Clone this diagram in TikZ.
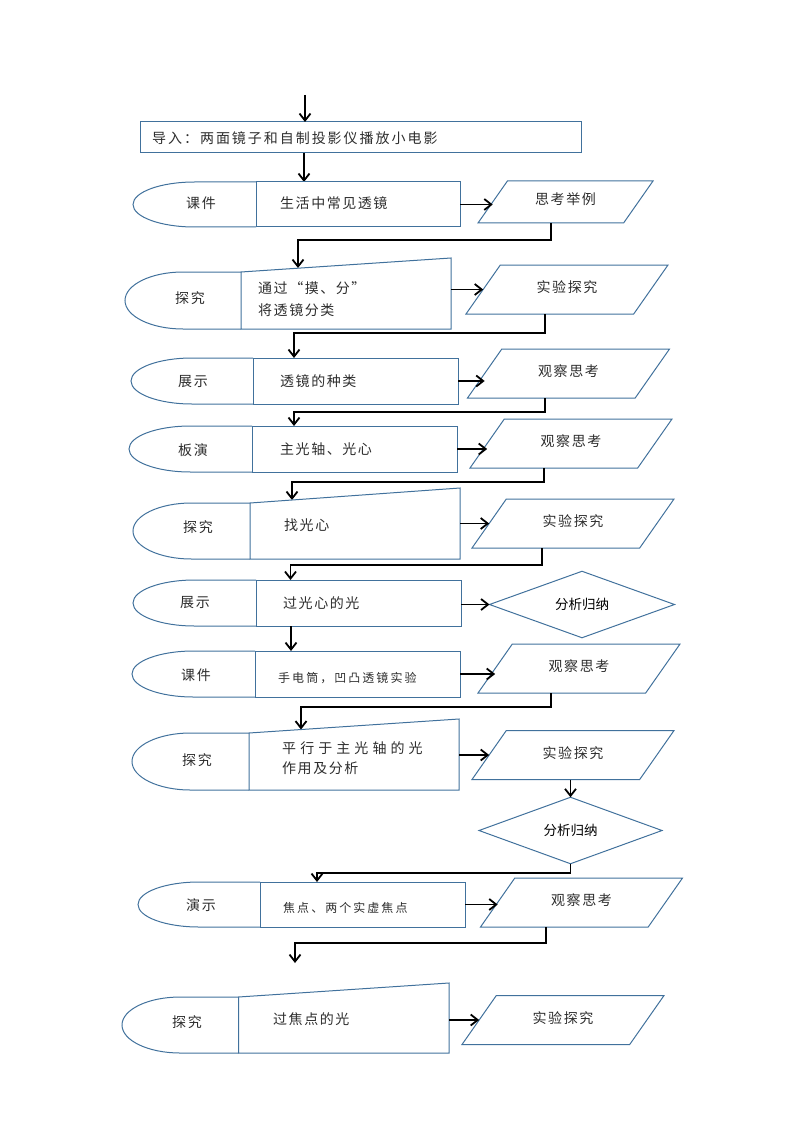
\documentclass[tikz,border=0pt]{standalone}
\usepackage{fontspec}
\newfontfamily\cjk[LetterSpace=11]{Noto Sans CJK SC}
\newfontfamily\cjkwide[LetterSpace=14]{Noto Sans CJK SC}
\newfontfamily\cjkwider[LetterSpace=29]{Noto Sans CJK SC}
\newfontfamily\cjksmall[LetterSpace=17]{Noto Sans CJK SC}
\newfontfamily\cjkplain{Noto Sans CJK SC}
\usetikzlibrary{shapes.geometric,arrows.meta}
\definecolor{lineblue}{RGB}{65,113,156}
\definecolor{txtgray}{RGB}{45,45,45}

\begin{document}
\begin{tikzpicture}[x=1pt,y=-1pt,
  boxline/.style={draw=lineblue,line width=1pt},
  rbox/.style={boxline,inner sep=0,outer sep=0,minimum width=205,minimum height=46},
  para/.style={boxline,trapezium,trapezium left angle=55,trapezium right angle=125,
    trapezium stretches body,minimum width=202,text height=10pt,text depth=4pt,
    inner xsep=0,inner ysep=17.5pt,outer sep=0,
    text=txtgray,font=\fontsize{14}{16}\selectfont\cjk},
  decide/.style={boxline,diamond,minimum width=185,minimum height=57,inner sep=0,outer sep=0,
    font=\fontsize{13.5}{16}\selectfont\cjkplain},
  txt/.style={inner sep=0,text=txtgray,font=\fontsize{14}{16}\selectfont\cjk},
  smalltxt/.style={txt,font=\fontsize{12}{14}\selectfont\cjksmall},
  arr/.style={line width=1.8pt,-{Straight Barb[length=7pt,width=11pt]}}]
\useasboundingbox (0,0) rectangle (794,1123);

% lead-in
\coordinate (start) at (305,95);
\node at (360.5,137.5) (intro)[rbox,minimum width=441,minimum height=31] {};
\node at (152,138) (introtxt)[txt,anchor=west,font=\fontsize{14}{16}\selectfont\cjkwide] {导入：两面镜子和自制投影仪播放小电影};
\draw[arr] (start) -- (start |- intro.north);

% row 1
\coordinate (in1) at (304,182);
\draw[arr] (in1 |- intro.south) -- (in1);
\node at (358,204.5) (r1)[rbox,minimum width=204,minimum height=45] {};
\draw[boxline] (r1.north west) -- ++(-61.5,0) arc[start angle=-90,end angle=-270,x radius=61.5,y radius=22.5] -- (r1.south west);
\node at (201,203) (l1)[txt] {课件};
\node at (280,203) (t1)[txt,anchor=west] {生活中常见透镜};
\node at (565.5,202) (p1)[para,minimum width=175,inner ysep=14pt] {思考举例};
\draw[arr] (r1.east) -- (r1.east -| p1.left side);
\coordinate (in2) at (298,268);
\draw[arr] (p1.bottom side) -- ++(0,17) -| (in2);

% row 2
\draw[boxline] (241,272) coordinate (k2) -- (451,258) coordinate (k2r) -- (451,329) -- (241,329) coordinate (k2b) -- cycle;
\draw[boxline] (k2) -- ++(-58,0) arc[start angle=-90,end angle=-270,x radius=58,y radius=28.5] -- (k2b);
\node at (190,298) (l2)[txt] {探究};
\node at (258,288) (t2a)[txt,anchor=west] {通过“摸、分”};
\node at (258,310) (t2b)[txt,anchor=west] {将透镜分类};
\node at (567,289.5) (p2)[para] {实验探究};
\draw[arr] (p2.left side -| k2r) -- (p2.left side);
\coordinate (in3) at (294,358);
\draw[arr] ([xshift=-5]p2.bottom side) -- ++(0,19) -| (in3);

% row 3
\node at (355.5,381) (r3)[rbox] {};
\draw[boxline] (r3.north west) -- ++(-61,0) arc[start angle=-90,end angle=-270,x radius=61,y radius=23] -- (r3.south west);
\node at (193,382) (l3)[txt] {展示};
\node at (280,381) (t3)[txt,anchor=west] {透镜的种类};
\node at (568.5,373.5) (p3)[para] {观察思考};
\draw[arr] (r3.east) -- (r3.east -| p3.left side);
\coordinate (in4) at (294,426);
\draw[arr] ([xshift=-6]p3.bottom side) -- ++(0,14) -| (in4);

% row 4
\node at (354.5,449) (r4)[rbox] {};
\draw[boxline] (r4.north west) -- ++(-61.5,0) arc[start angle=-90,end angle=-270,x radius=61.5,y radius=23] -- (r4.south west);
\node at (193,450) (l4)[txt] {板演};
\node at (280,449) (t4)[txt,anchor=west] {主光轴、光心};
\node at (571,443.5) (p4)[para] {观察思考};
\draw[arr] (r4.east) -- (r4.east -| p4.left side);
\coordinate (in5) at (292,500);
\draw[arr] ([xshift=-10]p4.bottom side) -- ++(0,14) -| (in5);

% row 5
\draw[boxline] (250,503) coordinate (k5) -- (460,488) coordinate (k5r) -- (460,559) -- (250,559) coordinate (k5b) -- cycle;
\draw[boxline] (k5) -- ++(-58.5,0) arc[start angle=-90,end angle=-270,x radius=58.5,y radius=28] -- (k5b);
\node at (198,527) (l5)[txt] {探究};
\node at (284,525) (t5)[txt,anchor=west] {找光心};
\node at (573,523.5) (p5)[para] {实验探究};
\draw[arr] (p5.left side -| k5r) -- (p5.left side);
\coordinate (in6) at (290.5,580);
\draw[arr] ([xshift=-14]p5.bottom side) -- ++(0,17) -| (in6);

% row 6
\node at (358.5,603) (r6)[rbox] {};
\draw[boxline] (r6.north west) -- ++(-61.5,0) arc[start angle=-90,end angle=-270,x radius=61.5,y radius=23] -- (r6.south west);
\node at (195,603) (l6)[txt] {展示};
\node at (283,603) (t6)[txt,anchor=west] {过光心的光};
\node at (582,604.5) (d6)[decide] {分析归纳};
\draw[arr] (d6.west -| r6.east) -- (d6.west);
\coordinate (in7) at (291,651);
\draw[arr] (in7 |- r6.south) -- (in7);

% row 7
\node at (357.5,674) (r7)[rbox] {};
\draw[boxline] (r7.north west) -- ++(-61.5,0) arc[start angle=-90,end angle=-270,x radius=61.5,y radius=23] -- (r7.south west);
\node at (196,675) (l7)[txt] {课件};
\node at (278,678) (t7)[smalltxt,anchor=west] {手电筒，凹凸透镜实验};
\node at (579,668.5) (p7)[para] {观察思考};
\draw[arr] (r7.east) -- (r7.east -| p7.left side);
\coordinate (in8) at (301,729.5);
\draw[arr] ([xshift=-11]p7.bottom side) -- ++(0,14) -| (in8);

% row 8
\draw[boxline] (249,733) coordinate (k8) -- (459,719) coordinate (k8r) -- (459,790) -- (249,790) coordinate (k8b) -- cycle;
\draw[boxline] (k8) -- ++(-58.5,0) arc[start angle=-90,end angle=-270,x radius=58.5,y radius=28.5] -- (k8b);
\node at (197,760) (l8)[txt] {探究};
\node at (282,748) (t8a)[txt,anchor=west,font=\fontsize{14}{16}\selectfont\cjkwider] {平行于主光轴的光};
\node at (282,768) (t8b)[txt,anchor=west] {作用及分析};
\node at (573,755) (p8)[para] {实验探究};
\draw[arr] (p8.left side -| k8r) -- (p8.left side);
\node at (570.5,830.5) (d8)[decide,minimum width=183,minimum height=55] {分析归纳};
\draw[arr] (d8.north |- p8.south) -- (d8.north);
\coordinate (in9) at (317,882);
\draw[arr] (d8.south) -- ++(0,9) -| (in9);

% row 9
\node at (362.5,904.5) (r9)[rbox,minimum height=45] {};
\draw[boxline] (r9.north west) -- ++(-61,0) arc[start angle=-90,end angle=-270,x radius=61,y radius=22.5] -- (r9.south west);
\node at (201,905) (l9)[txt] {演示};
\node at (283,908) (t9)[smalltxt,anchor=west] {焦点、两个实虚焦点};
\node at (581.5,902.5) (p9)[para] {观察思考};
\draw[arr] (r9.east) -- (r9.east -| p9.left side);
\coordinate (stop) at (295,963);
\draw[arr] ([xshift=-18]p9.bottom side) -- ++(0,16) -| (stop);

% row 10
\draw[boxline] (238.5,997) coordinate (k10) -- (449,983) coordinate (k10r) -- (449,1053) -- (238.5,1053) coordinate (k10b) -- cycle;
\draw[boxline] (k10) -- ++(-58.25,0) arc[start angle=-90,end angle=-270,x radius=58.25,y radius=28] -- (k10b);
\node at (187,1022) (l10)[txt] {探究};
\node at (273,1019) (t10)[txt,anchor=west] {过焦点的光};
\node at (563,1020) (p10)[para] {实验探究};
\draw[arr] (p10.left side -| k10r) -- (p10.left side);
\end{tikzpicture}
\end{document}
